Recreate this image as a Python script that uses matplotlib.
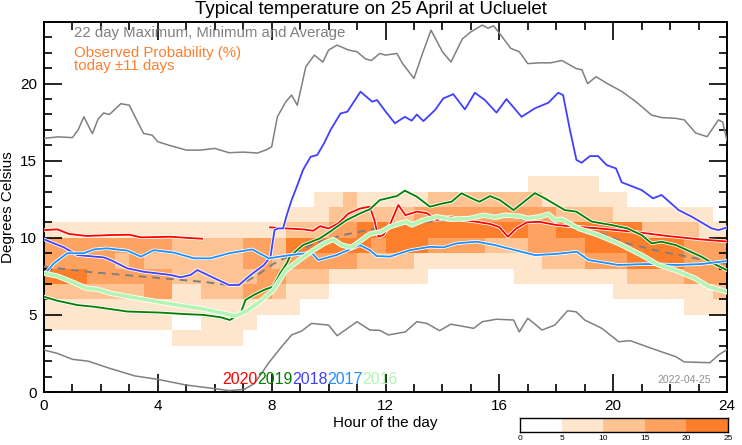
import numpy as np
import matplotlib
matplotlib.use('Agg')
import matplotlib.pyplot as plt
from matplotlib.colors import ListedColormap, BoundaryNorm
import matplotlib.patheffects as pe

plt.rcParams['font.family'] = ['Liberation Sans', 'DejaVu Sans']

# probability levels (0:<5%, 1:5-10, 2:10-15, 3:15-20, 4:20-25), half-hour columns,
# rows from 3-4 C (bottom) up to 13-14 C, run-length coded (level, count)
prob_rows_rle = [
    [(0, 9), (1, 5), (0, 34)],                                              # 3-4
    [(1, 9), (0, 2), (1, 4), (0, 33)],                                      # 4-5
    [(1, 18), (0, 27), (1, 3)],                                             # 5-6
    [(2, 7), (3, 2), (1, 2), (2, 3), (3, 2), (2, 1), (1, 3), (0, 20), (1, 7), (2, 1)],   # 6-7
    [(4, 3), (3, 6), (2, 6), (3, 2), (2, 3), (1, 7), (0, 6), (1, 8), (2, 4), (3, 3)],    # 7-8
    [(3, 5), (2, 1), (3, 1), (2, 7), (3, 2), (2, 1), (3, 5), (2, 4), (1, 9), (2, 3), (3, 3), (4, 4), (3, 3)],  # 8-9
    [(3, 9), (2, 5), (3, 2), (2, 1), (4, 6), (3, 1), (4, 3), (3, 4), (2, 3), (3, 4), (4, 7), (3, 3)],  # 9-10
    [(1, 17), (2, 3), (3, 2), (4, 12), (3, 2), (4, 6), (2, 4), (1, 2)],    # 10-11
    [(0, 17), (1, 3), (2, 6), (3, 10), (2, 4), (1, 7), (0, 1)],            # 11-12
    [(0, 19), (1, 2), (2, 1), (1, 5), (2, 8), (1, 6), (0, 7)],             # 12-13
    [(0, 34), (1, 5), (0, 9)],                                              # 13-14
]
prob_bounds = [0, 5, 10, 15, 20, 25]
prob_colors = ['#ffffff', '#fee6cd', '#fdc392', '#fda260', '#fd7f2c']

max_pts = [(0, 16.45), (0.5, 16.55), (1.0, 16.5), (1.2, 17.0), (1.4, 17.85), (1.7, 16.76),
           (1.9, 17.7), (2.1, 18.1), (2.3, 18.0), (2.7, 18.7), (3.0, 18.6), (3.2, 17.85),
           (3.5, 16.77), (3.8, 16.66), (4.0, 16.23), (4.4, 16.0), (5.0, 15.69), (5.5, 15.69),
           (6.0, 15.8), (6.5, 15.52), (7.0, 15.56), (7.5, 15.5), (7.8, 15.7), (8.0, 15.9),
           (8.2, 17.85), (8.5, 18.83), (8.7, 19.26), (8.9, 18.6), (9.2, 21.1), (9.5, 21.85),
           (9.8, 21.4), (10.0, 22.18), (10.3, 22.5), (10.7, 22.18), (11.0, 22.07), (11.3, 21.6),
           (11.5, 21.5), (11.8, 21.96), (12.0, 21.85), (12.4, 21.96), (12.6, 21.3), (13.0, 20.34),
           (13.3, 21.96), (13.6, 23.47), (14.0, 22.07), (14.3, 21.4), (14.7, 22.9), (15.0, 23.36),
           (15.4, 23.8), (15.6, 23.6), (15.8, 23.75), (16.0, 23.28), (16.4, 22.29), (16.7, 22.07),
           (17.0, 21.3), (17.4, 21.35), (17.8, 21.35), (18.2, 21.5), (18.7, 20.98), (18.9, 20.9),
           (19.1, 20.0), (19.4, 20.45), (19.8, 20.0), (20.3, 19.5), (20.8, 18.83), (21.35, 17.96),
           (21.7, 17.8), (22.2, 17.75), (22.5, 17.65), (22.9, 16.8), (23.3, 16.56), (23.7, 17.65),
           (23.85, 17.5), (24.0, 16.3)]

min_pts = [(0, 2.72), (0.46, 2.51), (1.0, 2.12), (1.55, 2.0), (2.3, 1.54), (3.2, 1.04),
           (4.0, 0.82), (5.0, 0.45), (5.9, 0.24), (6.5, 0.09), (7.04, 0.17), (7.4, 0.56),
           (7.9, 1.9), (8.3, 2.83), (8.7, 3.7), (9.05, 3.95), (9.4, 4.45), (10.0, 4.34),
           (10.3, 3.65), (11.0, 4.56), (11.45, 4.02), (11.8, 4.0), (12.1, 3.7), (12.7, 3.9),
           (13.1, 4.56), (13.45, 4.45), (13.9, 3.98), (14.3, 4.4), (15.1, 4.13), (15.4, 4.56),
           (15.9, 4.72), (16.5, 4.67), (16.7, 3.9), (17.0, 4.78), (17.5, 4.02), (17.95, 4.34),
           (18.4, 5.27), (18.7, 5.2), (19.0, 4.67), (19.6, 4.13), (20.2, 3.26), (20.6, 3.33),
           (21.35, 2.83), (22.2, 2.29), (22.5, 1.95), (23.4, 1.9), (23.7, 2.4), (24.0, 2.75)]

avg_pts = [(0, 8.13), (1.5, 7.8), (3.5, 7.48), (5.5, 7.16), (6.5, 6.94), (7.0, 7.05),
           (7.5, 7.59), (8.05, 8.3), (9.5, 9.64), (10.5, 10.18), (12.0, 10.72), (13.56, 11.05),
           (15.0, 11.33), (16.1, 11.42), (17.0, 11.16), (18.2, 10.83), (19.4, 10.4),
           (20.5, 9.64), (21.7, 9.1), (22.9, 8.67), (24.0, 8.3)]

y2020_pts = [(0, 10.5), (0.47, 10.55), (0.88, 10.25), (1.5, 10.12), (2.34, 10.18), (3.0, 10.2),
             (3.4, 10.03), (4.45, 10.07), (5.0, 10.0), (5.56, 9.94), (6.5, np.nan),
             (7.94, 10.68), (8.5, 10.61), (9.1, 10.55), (9.46, 10.46), (9.7, 10.76), (10.0, 10.61),
             (10.34, 10.94), (10.7, 11.58), (11.1, 11.9), (11.45, 12.02), (11.6, 11.2),
             (11.75, 10.07), (11.92, 10.18), (12.15, 10.83), (12.45, 12.13), (12.7, 11.47),
             (13.1, 11.7), (13.45, 11.6), (13.8, 11.15), (14.26, 11.37), (14.73, 11.15),
             (15.2, 11.04), (15.67, 10.9), (16.0, 10.7), (16.3, 10.07), (16.6, 10.61),
             (16.96, 11.0), (17.4, 11.04), (18.0, 10.83), (18.7, 10.72), (19.5, 10.61),
             (20.7, 10.4), (21.9, 10.12), (23.05, 9.9), (24.0, 9.76)]

y2019_pts = [(0, 6.18), (0.47, 5.92), (1.17, 5.64), (1.76, 5.53), (2.93, 5.22), (4.1, 5.15),
             (4.9, 5.06), (5.6, 5.0), (6.2, 4.85), (6.53, 4.67), (6.9, 5.06), (7.08, 5.97),
             (7.38, 6.3), (7.73, 6.62), (8.05, 6.83), (8.3, 7.7), (8.53, 8.35), (8.64, 8.78),
             (9.1, 9.53), (9.7, 9.97), (10.05, 10.4), (10.63, 11.15), (11.1, 11.58),
             (11.45, 11.85), (11.8, 12.45), (12.4, 12.71), (12.68, 13.06), (13.1, 12.67),
             (13.56, 12.02), (14.03, 12.24), (14.32, 12.34), (14.67, 12.89), (15.03, 12.56),
             (15.3, 12.34), (15.67, 12.71), (16.02, 12.45), (16.5, 11.8), (17.25, 12.9),
             (17.6, 12.56), (18.3, 11.8), (18.7, 11.7), (19.25, 11.05), (19.95, 10.83),
             (20.5, 10.61), (21.0, 10.18), (21.35, 9.64), (21.7, 9.75), (22.2, 9.53),
             (22.6, 9.2), (23.1, 8.78), (23.5, 8.35), (24.0, 7.9)]

y2018_pts = [(0, 9.9), (0.7, 9.38), (1.17, 8.88), (2.1, 8.73), (2.34, 8.56), (2.93, 8.02),
             (3.5, 7.8), (4.45, 7.59), (4.8, 7.44), (5.15, 7.59), (5.39, 7.91), (6.0, 7.37),
             (6.5, 6.94), (6.85, 6.94), (7.26, 7.59), (7.73, 8.24), (7.96, 8.78), (8.1, 10.5),
             (8.23, 10.61), (8.4, 10.61), (8.53, 11.47), (8.7, 12.45), (8.88, 13.3), (9.1, 14.4),
             (9.37, 15.26), (9.6, 15.37), (9.84, 16.13), (10.07, 17.0), (10.42, 18.07),
             (10.66, 18.18), (11.12, 19.48), (11.53, 18.83), (11.7, 18.94), (12.0, 18.2),
             (12.33, 17.43), (12.68, 17.85), (12.92, 17.6), (13.1, 18.0), (13.33, 17.57),
             (13.74, 18.29), (14.03, 19.04), (14.38, 19.32), (14.79, 18.33), (15.14, 19.41),
             (15.49, 18.94), (15.9, 18.12), (16.25, 19.0), (16.78, 17.85), (17.25, 18.4),
             (17.72, 18.76), (18.07, 19.41), (18.24, 19.26), (18.48, 17.0), (18.71, 15.05),
             (18.89, 14.87), (19.18, 15.3), (19.47, 15.3), (19.77, 14.72), (20.1, 14.5),
             (20.3, 13.6), (21.0, 13.1), (21.4, 12.56), (21.7, 12.78), (22.3, 11.8),
             (22.76, 11.37), (23.46, 10.61), (23.7, 10.5), (24.0, 10.68)]

y2017_pts = [(0.05, 7.7), (0.35, 8.35), (0.82, 9.0), (1.4, 9.0), (1.76, 9.25), (2.2, 9.32),
             (2.93, 9.17), (3.4, 8.78), (3.86, 9.2), (4.57, 9.04), (5.27, 8.67), (5.85, 8.67),
             (6.5, 9.0), (7.32, 9.25), (7.9, 8.67), (8.64, 8.88), (9.4, 9.04), (9.64, 8.56),
             (10.28, 8.88), (11.1, 9.53), (11.45, 9.2), (11.69, 8.82), (12.15, 8.78),
             (12.86, 9.2), (13.56, 9.42), (14.03, 9.38), (14.5, 9.64), (15.2, 9.75),
             (15.85, 9.53), (16.55, 9.2), (17.25, 8.88), (17.96, 8.95), (18.72, 9.1),
             (19.13, 8.56), (20.18, 8.24), (21.12, 8.3), (22.3, 8.24), (23.1, 8.3), (24.0, 8.5)]

y2016_pts = [(0, 7.7), (0.47, 7.52), (1.05, 7.09), (1.5, 6.72), (1.87, 6.66), (2.34, 6.4),
             (3.5, 6.01), (4.68, 5.64), (5.5, 5.42), (6.2, 5.15), (6.73, 4.93), (7.14, 5.28),
             (7.61, 5.9), (8.05, 6.6), (8.5, 7.9), (9.1, 8.73), (9.46, 9.2), (9.87, 9.67),
             (10.17, 9.89), (10.46, 9.53), (10.8, 9.38), (11.16, 9.86), (11.45, 10.25),
             (11.86, 10.4), (12.15, 10.72), (12.45, 10.9), (12.74, 11.04), (12.92, 10.83),
             (13.33, 11.15), (13.8, 11.37), (14.32, 11.2), (14.97, 11.26), (15.44, 11.47),
             (15.85, 11.33), (16.2, 11.47), (16.73, 11.4), (17.0, 11.26), (17.43, 11.37),
             (17.72, 11.54), (17.96, 11.15), (18.2, 11.2), (18.78, 10.61), (19.48, 10.18),
             (20.18, 9.64), (21.0, 8.88), (21.59, 8.24), (22.17, 7.91), (22.88, 7.37),
             (23.35, 6.83), (24.0, 6.5)]

years = ['2020', '2019', '2018', '2017', '2016']
year_colors = ['#ff0000', '#007f00', '#4040ff', '#1e8fff', '#b4f5b4']
year_series = [y2020_pts, y2019_pts, y2018_pts, y2017_pts, y2016_pts]
year_widths = [1.3, 1.3, 1.3, 1.3, 2.6]

# ---- figure
fig = plt.figure(figsize=(7.42, 4.45), dpi=100)
ax = fig.add_axes([0.0593, 0.1191, 0.9205, 0.8315])

levels = np.array([[lv for lv, n in row for _ in range(n)] for row in prob_rows_rle])
prob = levels * 5 + 2.5
xe = np.arange(0, 24.01, 0.5)
ye = np.arange(3, 15, 1)
cmap = ListedColormap(prob_colors)
norm = BoundaryNorm(prob_bounds, cmap.N)
ax.pcolormesh(xe, ye, prob, cmap=cmap, norm=norm, zorder=1)

def outline(w):
    return [pe.Stroke(linewidth=w + 1.2, foreground='white'), pe.Normal()]

for pts in [max_pts, min_pts]:
    a = np.array(pts)
    ax.plot(a[:, 0], a[:, 1], color='#808080', lw=1.1, zorder=3)
a = np.array(avg_pts)
ax.plot(a[:, 0], a[:, 1], color='#808080', lw=1.4, ls=(0, (4, 3)), zorder=3)

for pts, c, w in zip(year_series, year_colors, year_widths):
    a = np.array(pts)
    ax.plot(a[:, 0], a[:, 1], color=c, lw=w, zorder=4, path_effects=outline(w))

ax.set_xlim(0, 24)
ax.set_ylim(0, 24)
ax.set_xticks(range(0, 25, 4))
ax.set_xticks(range(0, 25), minor=True)
ax.set_yticks(range(0, 21, 5))
ax.set_yticks(range(0, 24), minor=True)
ax.tick_params(which='both', direction='in', top=True, right=True, labelsize=11, width=1.2)
ax.tick_params(which='major', length=13, pad=5)
ax.tick_params(which='minor', length=6)
for s in ax.spines.values():
    s.set_linewidth(1.4)
ax.set_xlabel('Hour of the day', fontsize=11, labelpad=2)
ax.set_ylabel('Degrees Celsius', fontsize=11, labelpad=4)
fig.suptitle('Typical temperature on 25 April at Ucluelet', fontsize=13.5, y=0.997)

ax.text(0.044, 0.97, '22 day Maximum, Minimum and Average', transform=ax.transAxes,
        color='#808080', fontsize=10.8, va='center')
ax.text(0.044, 0.917, 'Observed Probability (%)', transform=ax.transAxes,
        color='#fd8030', fontsize=10.8, va='center')
ax.text(0.044, 0.882, 'today \u00b111 days', transform=ax.transAxes,
        color='#fd8030', fontsize=10.8, va='center')

xpos = 0.2606
for yr, c in zip(years, year_colors):
    ax.text(xpos, 0.033, yr, transform=ax.transAxes, color=c, fontsize=11.5, va='center')
    xpos += 0.0515
ax.text(0.977, 0.033, '2022-04-25', transform=ax.transAxes, color='#909090',
        fontsize=7.5, va='center', ha='right')

# colour bar
cax = fig.add_axes([0.7008, 0.0292, 0.2803, 0.0315])
cax.pcolormesh(prob_bounds, [0, 1], np.array([[2.5, 7.5, 12.5, 17.5, 22.5]]), cmap=cmap, norm=norm)
cax.set_xlim(0, 25)
cax.set_yticks([])
cax.set_xticks(prob_bounds)
cax.tick_params(length=0, labelsize=6, pad=2)
for s in cax.spines.values():
    s.set_linewidth(1.0)

fig.savefig('out.png', dpi=100)
